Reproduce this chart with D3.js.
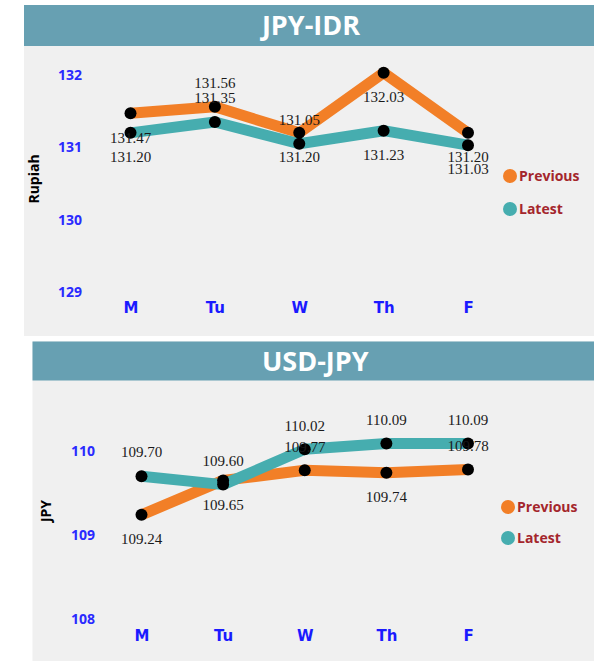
<!DOCTYPE html>
<html>
<head>
<meta charset="utf-8">
<script src="https://cdn.jsdelivr.net/npm/d3@7/dist/d3.min.js"></script>
<style>
  html, body { margin: 0; padding: 0; background: #ffffff; }
  svg { display: block; }
</style>
</head>
<body>
<svg id="chart" width="594" height="668"></svg>
<script>
// ---------- data ----------
const days = ["M", "Tu", "W", "Th", "F"];
const seriesNames = ["Previous", "Latest"];

const idrTitle = "JPY-IDR";
const idrAxisTitle = "Rupiah";
const idrPrevious = [131.47, 131.56, 131.20, 132.03, 131.20];
const idrLatest   = [131.20, 131.35, 131.05, 131.23, 131.03];
const idrTicks    = [129, 130, 131, 132];
const idrPrevSide = ["below", "above", "below", "below", "below"];
const idrLatSide  = ["below", "above", "above", "below", "below"];

const usdTitle = "USD-JPY";
const usdAxisTitle = "JPY";
const usdPrevious = [109.24, 109.65, 109.77, 109.74, 109.78];
const usdLatest   = [109.70, 109.60, 110.02, 110.09, 110.09];
const usdTicks    = [108, 109, 110];
const usdPrevSide = ["below", "below", "above", "below", "above"];
const usdLatSide  = ["above", "above", "above", "above", "above"];

// ---------- styles ----------
const colors = { Previous: "#f27f27", Latest: "#46adaf" };
const headerColor = "#67a0b2";
const panelColor = "#f0f0f0";

const svg = d3.select("#chart");

function drawPanel(cfg) {
  const g = svg.append("g");
  g.append("rect").attr("x", cfg.left).attr("y", cfg.top)
    .attr("width", 594 - cfg.left + 10).attr("height", cfg.bottom - cfg.top)
    .attr("fill", panelColor);
  g.append("rect").attr("x", cfg.left).attr("y", cfg.top)
    .attr("width", 594 - cfg.left + 10).attr("height", cfg.headerH)
    .attr("fill", headerColor);
  g.append("text")
    .attr("x", (cfg.left + 594) / 2 + 2).attr("y", cfg.top + cfg.headerH / 2)
    .attr("dy", "0.36em")
    .attr("text-anchor", "middle")
    .attr("font-family", "'Open Sans', sans-serif")
    .attr("font-weight", "bold").attr("font-size", 27)
    .attr("fill", "#ffffff")
    .text(cfg.title);

  const x = d3.scalePoint().domain(days).range(cfg.xRange);
  const y = d3.scaleLinear().domain(cfg.yDomain).range(cfg.yRange);

  const yAxis = d3.axisLeft(y).tickValues(cfg.ticks).tickSize(0).tickPadding(0)
    .tickFormat(d3.format("d"));
  const ya = g.append("g").attr("transform", `translate(${cfg.yLabelX},0)`).call(yAxis);
  ya.select(".domain").remove();
  ya.selectAll("text")
    .attr("font-family", "'Open Sans', sans-serif")
    .attr("font-weight", "bold").attr("font-size", 14)
    .attr("fill", "#2a2aff");

  const xAxis = d3.axisBottom(x).tickSize(0).tickPadding(0);
  const xa = g.append("g").attr("transform", `translate(0,${cfg.xLabelY})`).call(xAxis);
  xa.select(".domain").remove();
  xa.selectAll("text")
    .attr("dy", "0.35em").attr("y", 0)
    .attr("font-family", "'DejaVu Sans', Verdana, sans-serif")
    .attr("font-weight", "bold").attr("font-size", 15)
    .attr("fill", "#1a1aff");

  g.append("text")
    .attr("transform", `translate(${cfg.axisTitleX},${cfg.axisTitleY}) rotate(-90)`)
    .attr("dy", "0.35em")
    .attr("text-anchor", "middle")
    .attr("font-family", "'Open Sans', sans-serif")
    .attr("font-weight", "bold").attr("font-size", 14)
    .attr("fill", "#000")
    .text(cfg.axisTitle);

  const series = [
    { name: "Previous", values: cfg.previous, side: cfg.prevSide },
    { name: "Latest", values: cfg.latest, side: cfg.latSide }
  ];

  const line = d3.line().x((d, i) => x(days[i])).y(d => y(d));
  g.selectAll("path.series").data(series).enter().append("path")
    .attr("class", "series")
    .attr("d", s => line(s.values))
    .attr("fill", "none")
    .attr("stroke", s => colors[s.name])
    .attr("stroke-width", 11)
    .attr("stroke-linejoin", "round");

  series.forEach(s => {
    g.selectAll(null).data(s.values).enter().append("circle")
      .attr("cx", (d, i) => x(days[i]))
      .attr("cy", d => y(d))
      .attr("r", 6)
      .attr("fill", "#000");
  });

  series.forEach(s => {
    g.selectAll(null).data(s.values).enter().append("text")
      .attr("x", (d, i) => x(days[i]))
      .attr("y", (d, i) => y(d) + (s.side[i] === "above" ? -24 : 24))
      .attr("dy", "0.35em")
      .attr("text-anchor", "middle")
      .attr("font-family", "'Liberation Serif', 'Times New Roman', serif")
      .attr("font-size", 15)
      .attr("fill", "#1a1a1a")
      .text(d => d3.format(".2f")(d));
  });

  const lg = g.append("g");
  seriesNames.forEach((name, i) => {
    const ly = cfg.legendY + i * cfg.legendStep;
    lg.append("circle").attr("cx", cfg.legendX).attr("cy", ly).attr("r", 7)
      .attr("fill", colors[name]);
    lg.append("text").attr("x", cfg.legendX + 9).attr("y", ly).attr("dy", "0.35em")
      .attr("font-family", "'Open Sans', sans-serif")
      .attr("font-weight", "bold").attr("font-size", 14)
      .attr("fill", "#a4262c")
      .text(name);
  });
}

drawPanel({
  title: idrTitle, axisTitle: idrAxisTitle,
  previous: idrPrevious, latest: idrLatest, ticks: idrTicks,
  prevSide: idrPrevSide, latSide: idrLatSide,
  left: 24, top: 5, headerH: 41, bottom: 336,
  xRange: [130.5, 468], yDomain: [129, 132], yRange: [292, 75],
  yLabelX: 82, xLabelY: 308, axisTitleX: 34, axisTitleY: 179,
  legendX: 510, legendY: 176, legendStep: 33
});

drawPanel({
  title: usdTitle, axisTitle: usdAxisTitle,
  previous: usdPrevious, latest: usdLatest, ticks: usdTicks,
  prevSide: usdPrevSide, latSide: usdLatSide,
  left: 32.5, top: 341.5, headerH: 39, bottom: 661,
  xRange: [141.5, 468], yDomain: [108, 110], yRange: [619, 451],
  yLabelX: 95, xLabelY: 636, axisTitleX: 46, axisTitleY: 511,
  legendX: 508, legendY: 507, legendStep: 31
});
</script>
</body>
</html>
